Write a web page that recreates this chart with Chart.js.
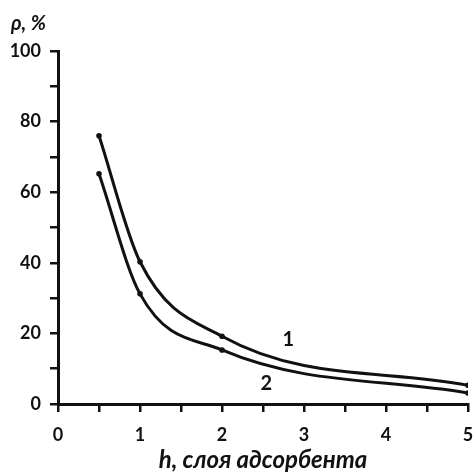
<!DOCTYPE html>
<html>
<head>
<meta charset="utf-8">
<script src="https://cdn.jsdelivr.net/npm/chart.js@4/dist/chart.umd.min.js"></script>
<style>
    html, body { margin: 0; padding: 0; background: #fff; }
    #wrap { width: 475px; height: 476px; }
</style>
</head>
<body>
<div id="wrap"><canvas id="chart" width="475" height="476"></canvas></div>
<script>
// Data
const hValues = [0.5, 1, 2, 5];
const curve1 = [76, 40.3, 19.2, 5.3];
const curve2 = [65.2, 31.2, 15.3, 3.1];
const curveNames = ['1', '2'];
const xTitle = 'h, слоя адсорбента';
const yTitle = 'ρ, %';

const INK = '#111';
const FONT = 'Lato, "Open Sans", sans-serif';

function toPoints(xs, ys) {
    return xs.map((x, i) => ({ x: x, y: ys[i] }));
}

// Extra texts: axis titles and curve numbers
const textPlugin = {
    id: 'texts',
    afterDraw(chart) {
        const ctx = chart.ctx;
        const xs = chart.scales.x;
        const ys = chart.scales.y;
        ctx.save();
        ctx.fillStyle = INK;

        ctx.textBaseline = 'alphabetic';
        ctx.font = 'italic bold 24px ' + FONT;
        ctx.textAlign = 'center';
        ctx.fillText(xTitle, (chart.chartArea.left + chart.chartArea.right) / 2, 468);

        ctx.font = 'italic bold 20px ' + FONT;
        ctx.textAlign = 'left';
        ctx.fillText(yTitle, 11, 30);

        ctx.textBaseline = 'middle';
        ctx.font = 'bold 20px ' + FONT;
        ctx.textAlign = 'center';
        ctx.fillText(curveNames[0], xs.getPixelForValue(2.81), ys.getPixelForValue(18.3));
        ctx.fillText(curveNames[1], xs.getPixelForValue(2.54), ys.getPixelForValue(5.8));
        ctx.restore();
    }
};

const lineStyle = {
    borderColor: INK,
    backgroundColor: INK,
    borderWidth: 3,
    pointRadius: 2.8,
    pointHoverRadius: 2.8,
    pointBorderWidth: 0,
    cubicInterpolationMode: 'monotone',
    fill: false
};

new Chart(document.getElementById('chart'), {
    type: 'scatter',
    data: {
        datasets: [
            Object.assign({ label: curveNames[0], data: toPoints(hValues, curve1), showLine: true }, lineStyle),
            Object.assign({ label: curveNames[1], data: toPoints(hValues, curve2), showLine: true }, lineStyle)
        ]
    },
    options: {
        responsive: false,
        animation: false,
        layout: { padding: { top: 51, right: 7, left: 0, bottom: 0 } },
        plugins: {
            legend: { display: false },
            tooltip: { enabled: false }
        },
        scales: {
            x: {
                type: 'linear',
                min: 0,
                max: 5,
                afterFit: (s) => { s.height = 72; s.paddingRight = 0; s.paddingLeft = 0; },
                border: { color: INK, width: 3 },
                grid: { drawOnChartArea: false, drawTicks: true, tickLength: 8, color: INK, lineWidth: 2.5 },
                ticks: {
                    stepSize: 0.5,
                    autoSkip: false,
                    maxRotation: 0,
                    padding: 12,
                    color: INK,
                    font: { family: FONT, size: 18, weight: 'bold' },
                    callback: (v) => Number.isInteger(v) ? String(v) : ''
                }
            },
            y: {
                type: 'linear',
                min: 0,
                max: 100,
                afterFit: (s) => { s.width = 58; },
                border: { color: INK, width: 3 },
                grid: { drawOnChartArea: false, drawTicks: true, tickLength: 8, color: INK, lineWidth: 2.5 },
                ticks: {
                    stepSize: 10,
                    autoSkip: false,
                    padding: 9,
                    color: INK,
                    font: { family: FONT, size: 18, weight: 'bold' },
                    callback: (v) => v % 20 === 0 ? String(v) : ''
                }
            }
        }
    },
    plugins: [textPlugin]
});
</script>
</body>
</html>
